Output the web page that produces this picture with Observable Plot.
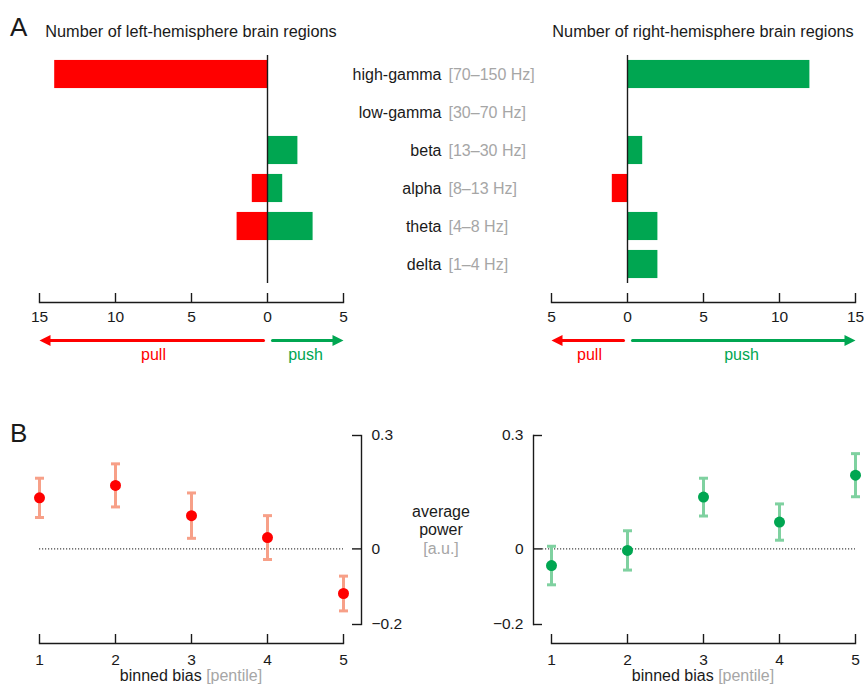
<!DOCTYPE html>
<html><head><meta charset="utf-8">
<script src="https://cdn.jsdelivr.net/npm/d3@7"></script>
<script src="https://cdn.jsdelivr.net/npm/@observablehq/plot@0.6"></script>
<style>
body{margin:0;background:#fff;font-family:"Liberation Sans",Arial,Helvetica,sans-serif;}
#root{position:relative;width:864px;height:686px;overflow:hidden;background:#fff;}
.abs{position:absolute;white-space:nowrap;line-height:1.15;color:#1a1a1a;}
.plot{position:absolute;}
.gray{color:#a6a6a6;}
</style></head><body><div id="root"></div>
<script>
// ---------- data ----------
const bands = ["high-gamma","low-gamma","beta","alpha","theta","delta"];
const bandRanges = ["[70–150 Hz]","[30–70 Hz]","[13–30 Hz]","[8–13 Hz]","[4–8 Hz]","[1–4 Hz]"];
const leftPull  = [14,0,0,1,2,0];
const leftPush  = [0,0,2,1,3,0];
const rightPull = [0,0,0,1,0,0];
const rightPush = [12,0,1,0,2,2];
const leftCountTicks  = [-15,-10,-5,0,5];   // negative = pull
const rightCountTicks = [-5,0,5,10,15];
const pentiles = [1,2,3,4,5];
const leftMean  = [0.135,0.168,0.088,0.030,-0.118];
const leftErr   = [0.052,0.057,0.060,0.058,0.046];
const rightMean = [-0.044,-0.004,0.137,0.071,0.195];
const rightErr  = [0.051,0.052,0.050,0.048,0.057];
const powerTicks = [-0.2,0,0.3];

// ---------- style ----------
const RED = "#ff0000", GREEN = "#00a651";
const RED_LIGHT = "#f7a088", GREEN_LIGHT = "#7fd1a0";
const INK = "#1a1a1a", GRAY = "#a6a6a6";
const FONT = '"Liberation Sans", Arial, Helvetica, sans-serif';
const baseStyle = {background:"transparent", fontFamily:FONT, fontSize:"15.5px", color:INK, overflow:"visible"};

const root = document.getElementById("root");
function place(el, left, top){ el.classList.add("plot"); el.style.left = left+"px"; el.style.top = top+"px"; root.appendChild(el); }
function label(html, x, y, {anchor="start", size=16, cls=""}={}){
  const d = document.createElement("div");
  d.className = "abs " + cls;
  d.innerHTML = html;
  d.style.fontSize = size + "px";
  d.style.left = x + "px"; d.style.top = y + "px";
  d.style.textAlign = anchor==="middle" ? "center" : anchor==="end" ? "right" : "left";
  const tx = anchor==="middle" ? "-50%" : anchor==="end" ? "-100%" : "0";
  d.style.transform = `translate(${tx},-50%)`;
  root.appendChild(d);
}

const bandY = {domain: bands, range: [55,283], paddingInner: 0.26, paddingOuter: 0.13, round:false, axis: null};

const headRight = {draw(ctx){ ctx.moveTo(0,0); ctx.lineTo(-11,-5.5); ctx.lineTo(-11,5.5); ctx.closePath(); }};
const headLeft  = {draw(ctx){ ctx.moveTo(0,0); ctx.lineTo(11,-5.5); ctx.lineTo(11,5.5); ctx.closePath(); }};
const cap = {draw(ctx){ ctx.moveTo(-4.5,0); ctx.lineTo(4.5,0); }};

function topPlot(pull, push, ticks, marginLeft, marginRight){
  const rows = [];
  bands.forEach((b,i)=>{
    if (pull[i]) rows.push({band:b, v:-pull[i], kind:"pull"});
    if (push[i]) rows.push({band:b, v: push[i], kind:"push"});
  });
  return Plot.plot({
    width:432, height:330, marginTop:55, marginBottom:28, marginLeft, marginRight,
    style: baseStyle,
    x: {domain:[ticks[0], ticks[ticks.length-1]], label:null},
    y: bandY,
    color: {domain:["pull","push"], range:[RED,GREEN]},
    marks: [
      Plot.barX(rows, {y:"band", x1:0, x2:"v", fill:"kind"}),
      Plot.ruleX([0], {insetBottom:19, stroke:INK, strokeWidth:1.4}),
      Plot.frame({anchor:"bottom", stroke:INK, strokeWidth:1.4}),
      Plot.ruleX(ticks, {insetTop:238, stroke:INK, strokeWidth:1.4}),
      Plot.axisX({ticks, tickSize:0, tickPadding:8, tickFormat:d=>String(Math.abs(d)), fontSize:15.5, fill:INK})
    ]
  });
}

function arrowPlot(ticks, marginLeft, marginRight){
  const lo = ticks[0], hi = ticks[ticks.length-1];
  const pull = [{x1:0, x2:lo, mid:lo/2, t:"pull"}];
  const push = [{x1:0, x2:hi, mid:hi/2, t:"push"}];
  return Plot.plot({
    width:432, height:50, marginTop:0, marginBottom:0, marginLeft, marginRight,
    style: baseStyle,
    x: {domain:[lo,hi], axis:null},
    y: {domain:[0,1], range:[20,34], axis:null},
    marks: [
      Plot.arrow(pull, {x1:"x1", x2:"x2", y1:0, y2:0, headLength:0, insetStart:4, insetEnd:8, stroke:RED, strokeWidth:3}),
      Plot.arrow(push, {x1:"x1", x2:"x2", y1:0, y2:0, headLength:0, insetStart:5, insetEnd:8, stroke:GREEN, strokeWidth:3}),
      Plot.dot(pull, {x:"x2", y:0, symbol:headLeft, fill:RED, stroke:"none"}),
      Plot.dot(push, {x:"x2", y:0, symbol:headRight, fill:GREEN, stroke:"none"}),
      Plot.text(pull, {x:"mid", y:1, text:"t", fill:RED, fontSize:16}),
      Plot.text(push, {x:"mid", y:1, text:"t", fill:GREEN, fontSize:16})
    ]
  });
}

function centerPlot(){
  return Plot.plot({
    width:220, height:330, marginTop:55, marginBottom:28, marginLeft:0, marginRight:0,
    style: baseStyle,
    y: bandY,
    marks: [
      Plot.text(bands, {y:d=>d, text:d=>d, frameAnchor:"left", dx:105, textAnchor:"end", fill:INK, fontSize:16}),
      Plot.text(bandRanges, {y:(d,i)=>bands[i], text:d=>d, frameAnchor:"left", dx:112, textAnchor:"start", fill:GRAY, fontSize:16})
    ]
  });
}

function bottomPlot(mean, err, dark, light, side){
  const rows = pentiles.map((p,i)=>({p, m:mean[i], lo:mean[i]-err[i], hi:mean[i]+err[i]}));
  const right = side === "right";
  const ml = right ? 39 : 101, mr = right ? 71 : 9;
  return Plot.plot({
    width:432, height:266, marginTop:15, marginBottom:43, marginLeft:ml, marginRight:mr,
    style: baseStyle,
    x: {domain:[1,5], range: right ? [39,343] : [119,423], label:null},
    y: {domain:[-0.2,0.3], range:[204,15], label:null},
    marks: [
      right ? Plot.ruleY([0], {insetRight:18, stroke:"#444", strokeWidth:1.2, strokeDasharray:"1.2,1.8"})
            : Plot.ruleY([0], {insetLeft:9, stroke:"#444", strokeWidth:1.2, strokeDasharray:"1.2,1.8"}),
      Plot.frame(right ? {anchor:"bottom", insetRight:18, stroke:INK, strokeWidth:1.4}
                       : {anchor:"bottom", insetLeft:18, stroke:INK, strokeWidth:1.4}),
      Plot.frame({anchor: right ? "right" : "left", insetBottom:19, stroke:INK, strokeWidth:1.4}),
      Plot.ruleX(pentiles, {insetTop:199, stroke:INK, strokeWidth:1.4}),
      right ? Plot.ruleY(powerTicks, {insetLeft:313, stroke:INK, strokeWidth:1.4})
            : Plot.ruleY(powerTicks, {insetRight:313, stroke:INK, strokeWidth:1.4}),
      Plot.axisX({ticks:pentiles, tickSize:0, tickPadding:10, tickFormat:d3.format("d"), fontSize:15.5, fill:INK}),
      Plot.axisY({anchor: right ? "right" : "left", ticks:powerTicks, tickSize:0, tickPadding:10, tickFormat:d3.format(""), fontSize:15.5, fill:INK}),
      Plot.ruleX(rows, {x:"p", y1:"lo", y2:"hi", stroke:light, strokeWidth:3}),
      Plot.dot(rows, {x:"p", y:"lo", symbol:cap, stroke:light, strokeWidth:3, fill:"none"}),
      Plot.dot(rows, {x:"p", y:"hi", symbol:cap, stroke:light, strokeWidth:3, fill:"none"}),
      Plot.dot(rows, {x:"p", y:"m", r:5.5, fill:dark, stroke:"none"})
    ]
  });
}

place(topPlot(leftPull, leftPush, leftCountTicks, 39, 89), 0, 0);
place(topPlot(rightPull, rightPush, rightCountTicks, 119, 9), 432, 0);
place(centerPlot(), 336, 0);
place(arrowPlot(leftCountTicks, 39, 89), 0, 320);
place(arrowPlot(rightCountTicks, 119, 9), 432, 320);
place(bottomPlot(leftMean, leftErr, RED, RED_LIGHT, "right"), 0, 420);
place(bottomPlot(rightMean, rightErr, GREEN, GREEN_LIGHT, "left"), 432, 420);

// ---------- text ----------
label("A", 10, 28, {size:26});
label("B", 10, 434, {size:26});
label("Number of left-hemisphere brain regions", 191, 31, {anchor:"middle", size:16.3});
label("Number of right-hemisphere brain regions", 703, 31, {anchor:"middle", size:16.3});
label('average<br>power<br><span class="gray">[a.u.]</span>', 441, 531, {anchor:"middle"});
label('binned bias <span class="gray">[pentile]</span>', 191, 676, {anchor:"middle"});
label('binned bias <span class="gray">[pentile]</span>', 703, 676, {anchor:"middle"});
</script></body></html>
